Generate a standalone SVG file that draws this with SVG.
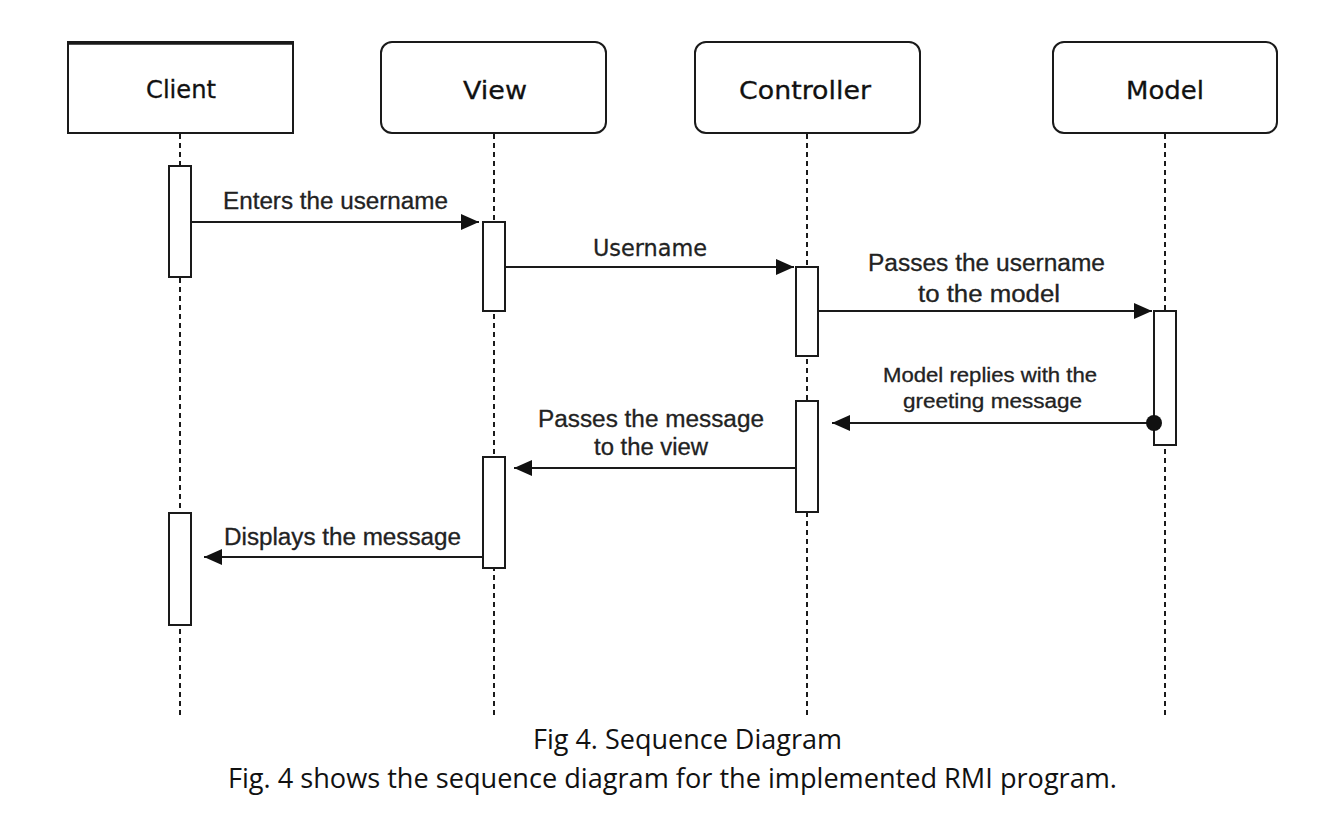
<svg xmlns="http://www.w3.org/2000/svg" width="1332" height="822" viewBox="0 0 1332 822">
<style>
.box{fill:#fff;stroke:#1a1a1a;stroke-width:2}
.top{stroke:#1a1a1a;stroke-width:3.5}
.life{stroke:#1a1a1a;stroke-width:2;stroke-dasharray:5 4;fill:none}
.act{fill:#fff;stroke:#1a1a1a;stroke-width:2}
.msg{stroke:#1a1a1a;stroke-width:2;fill:none}
.lbl{font-family:"Liberation Sans",Arial,sans-serif;font-size:23px;fill:#222;stroke:#222;stroke-width:0.3}
.sm{font-family:"Liberation Sans",Arial,sans-serif;font-size:20px;fill:#222;stroke:#222;stroke-width:0.3}
.hd{font-family:"DejaVu Sans",Verdana,sans-serif;font-size:25px;fill:#111;stroke:#111;stroke-width:0.3}
.un{font-family:"DejaVu Sans",Verdana,sans-serif;font-size:23px;fill:#222;stroke:#222;stroke-width:0.3}
.cap{font-family:"Open Sans","Liberation Sans",sans-serif;font-size:27px;fill:#111}
</style>
<defs>
<marker id="arr" markerWidth="18" markerHeight="16" refX="18" refY="8" orient="auto" markerUnits="userSpaceOnUse">
<path d="M0,0 L18,8 L0,16 z" fill="#111"/>
</marker>
</defs>
<rect width="1332" height="822" fill="#fff"/>

<g id="lifelines">
<line class="life" x1="180" y1="134" x2="180" y2="715"/>
<line class="life" x1="494" y1="134" x2="494" y2="715"/>
<line class="life" x1="807" y1="134" x2="807" y2="715"/>
<line class="life" x1="1165" y1="134" x2="1165" y2="715"/>
</g>

<g id="client">
<rect class="box" x="68" y="42" width="225" height="91"/>
<line class="top" x1="67" y1="43" x2="294" y2="43"/>
<text class="hd" x="146" y="98" textLength="70" lengthAdjust="spacingAndGlyphs">Client</text>
</g>
<g id="view">
<rect class="box" x="381" y="42" width="225" height="91" rx="11"/>
<text class="hd" x="463" y="99" textLength="64" lengthAdjust="spacingAndGlyphs">View</text>
</g>
<g id="controller">
<rect class="box" x="695" y="42" width="225" height="91" rx="11"/>
<text class="hd" x="739" y="99" textLength="132" lengthAdjust="spacingAndGlyphs">Controller</text>
</g>
<g id="model">
<rect class="box" x="1053" y="42" width="224" height="91" rx="11"/>
<text class="hd" x="1126" y="99" textLength="78" lengthAdjust="spacingAndGlyphs">Model</text>
</g>

<g id="activations">
<rect class="act" x="169" y="166" width="22" height="111"/>
<rect class="act" x="169" y="513" width="22" height="112"/>
<rect class="act" x="483" y="222" width="22" height="89"/>
<rect class="act" x="483" y="457" width="22" height="111"/>
<rect class="act" x="796" y="267" width="22" height="89"/>
<rect class="act" x="796" y="401" width="22" height="111"/>
<rect class="act" x="1154" y="311" width="22" height="134"/>
</g>

<g id="connectors">
<line class="msg" x1="191" y1="222" x2="479" y2="222" marker-end="url(#arr)"/>
<line class="msg" x1="505" y1="267" x2="794" y2="267" marker-end="url(#arr)"/>
<line class="msg" x1="818" y1="311" x2="1152" y2="311" marker-end="url(#arr)"/>
<line class="msg" x1="1151" y1="423" x2="832" y2="423" marker-end="url(#arr)"/>
<circle cx="1154" cy="423" r="8" fill="#111"/>
<line class="msg" x1="796" y1="468" x2="514" y2="468" marker-end="url(#arr)"/>
<line class="msg" x1="483" y1="557" x2="204" y2="557" marker-end="url(#arr)"/>
</g>

<g id="labels">
<text class="lbl" x="223" y="209" textLength="225" lengthAdjust="spacingAndGlyphs">Enters the username</text>
<text class="un" x="593" y="256" textLength="114" lengthAdjust="spacingAndGlyphs">Username</text>
<text class="lbl" x="868" y="271" textLength="237" lengthAdjust="spacingAndGlyphs">Passes the username</text>
<text class="lbl" x="918" y="302" textLength="142" lengthAdjust="spacingAndGlyphs">to the model</text>
<text class="sm" x="883" y="382" textLength="214" lengthAdjust="spacingAndGlyphs">Model replies with the</text>
<text class="sm" x="903" y="408" textLength="179" lengthAdjust="spacingAndGlyphs">greeting message</text>
<text class="lbl" x="538" y="427" textLength="226" lengthAdjust="spacingAndGlyphs">Passes the message</text>
<text class="lbl" x="594" y="455" textLength="114" lengthAdjust="spacingAndGlyphs">to the view</text>
<text class="lbl" x="224" y="545" textLength="237" lengthAdjust="spacingAndGlyphs">Displays the message</text>
</g>

<g id="caption">
<text class="cap" x="533" y="749" textLength="309" lengthAdjust="spacingAndGlyphs">Fig 4. Sequence Diagram</text>
<text class="cap" x="228" y="788" textLength="889" lengthAdjust="spacingAndGlyphs">Fig. 4 shows the sequence diagram for the implemented RMI program.</text>
</g>
</svg>
